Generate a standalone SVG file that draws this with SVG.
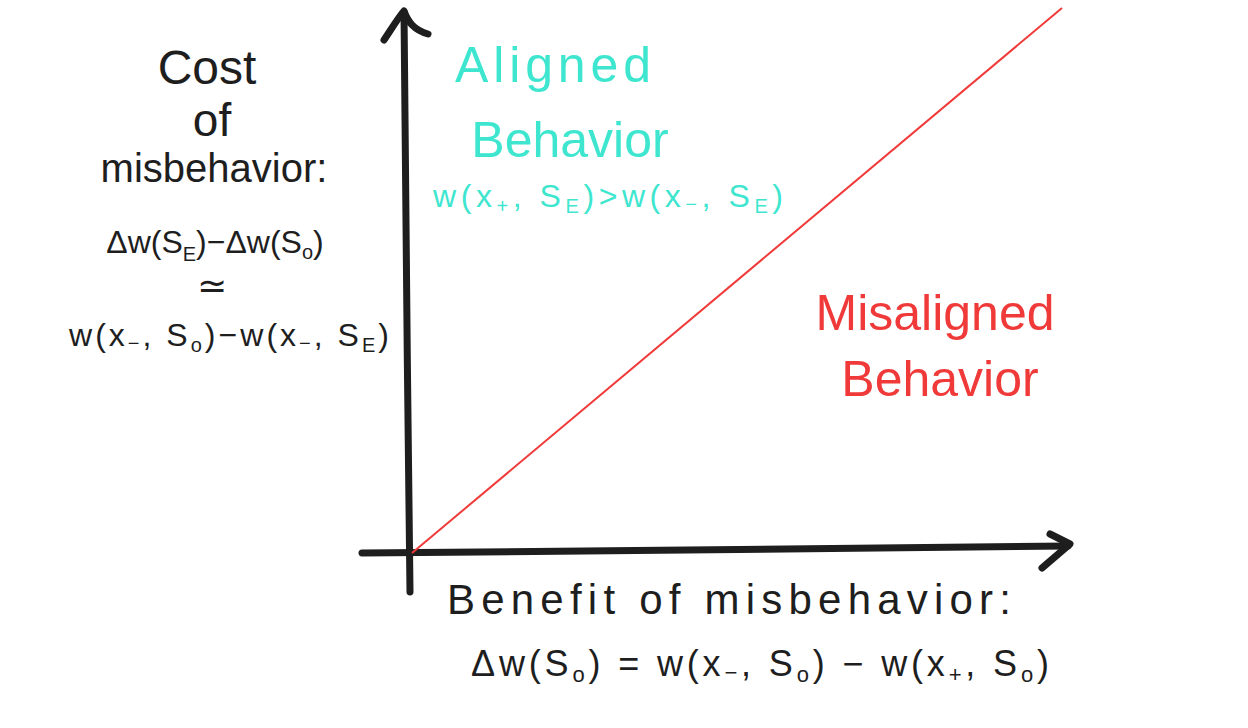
<svg xmlns="http://www.w3.org/2000/svg" width="1248" height="728" viewBox="0 0 1248 728">
<style>
.t{font-family:"Liberation Sans","DejaVu Sans",sans-serif;text-anchor:middle}
.k{fill:#1e1e1e}
.c{fill:#3fe6cf}
.r{fill:#f03a3a}
.ax{stroke:#1e1e1e;stroke-width:7;fill:none;stroke-linecap:round;stroke-linejoin:round}
</style>
<rect width="1248" height="728" fill="#ffffff"/>
<g id="connectors">
<path class="ax" d="M410,592 C408,400 405,200 404,12"/>
<path class="ax" d="M384,40 C392,28 398,18 404,11 C408,22 414,30 428,34"/>
<path class="ax" d="M362,553 C600,551 850,549 1068,546"/>
<path class="ax" d="M1050,534 L1070,544 L1042,568"/>
<line x1="412" y1="553" x2="1062" y2="8" stroke="#f03a3a" stroke-width="2"/>
</g>
<g id="cost-label" class="t k">
<text x="207" y="84" font-size="48">Cost</text>
<text x="212" y="136" font-size="46">of</text>
<text x="214" y="182" font-size="40">misbehavior:</text>
<text x="215" y="253" font-size="32">Δw(S<tspan font-size="20" dy="8">E</tspan><tspan dy="-8">)−Δw(S</tspan><tspan font-size="20" dy="6">o</tspan><tspan dy="-6">)</tspan></text>
<text x="212" y="298" font-size="36">≃</text>
<text x="229" y="346" font-size="32" textLength="320" lengthAdjust="spacing">w(x<tspan font-size="20" dy="4">−</tspan><tspan dy="-4">, S</tspan><tspan font-size="20" dy="6">o</tspan><tspan dy="-6">)−w(x</tspan><tspan font-size="20" dy="4">−</tspan><tspan dy="-4">, S</tspan><tspan font-size="20" dy="6">E</tspan><tspan dy="-6">)</tspan></text>
</g>
<g id="aligned" class="t c">
<text x="553" y="82" font-size="50" textLength="196" lengthAdjust="spacing">Aligned</text>
<text x="570" y="157" font-size="50">Behavior</text>
<text x="608" y="207" font-size="32" textLength="350" lengthAdjust="spacing">w(x<tspan font-size="20" dy="6">+</tspan><tspan dy="-6">, S</tspan><tspan font-size="20" dy="6">E</tspan><tspan dy="-6">)&gt;w(x</tspan><tspan font-size="20" dy="4">−</tspan><tspan dy="-4">, S</tspan><tspan font-size="20" dy="6">E</tspan><tspan dy="-6">)</tspan></text>
</g>
<g id="misaligned" class="t r">
<text x="935" y="330" font-size="50">Misaligned</text>
<text x="940" y="396" font-size="50">Behavior</text>
</g>
<g id="benefit-label" class="t k">
<text x="729" y="614" font-size="42" textLength="564" lengthAdjust="spacing">Benefit  of  misbehavior:</text>
<text x="760" y="676" font-size="36" textLength="578" lengthAdjust="spacing">Δw(S<tspan font-size="22" dy="6">o</tspan><tspan dy="-6">) = w(x</tspan><tspan font-size="22" dy="4">−</tspan><tspan dy="-4">, S</tspan><tspan font-size="22" dy="6">o</tspan><tspan dy="-6">) − w(x</tspan><tspan font-size="22" dy="6">+</tspan><tspan dy="-6">, S</tspan><tspan font-size="22" dy="6">o</tspan><tspan dy="-6">)</tspan></text>
</g>
</svg>
